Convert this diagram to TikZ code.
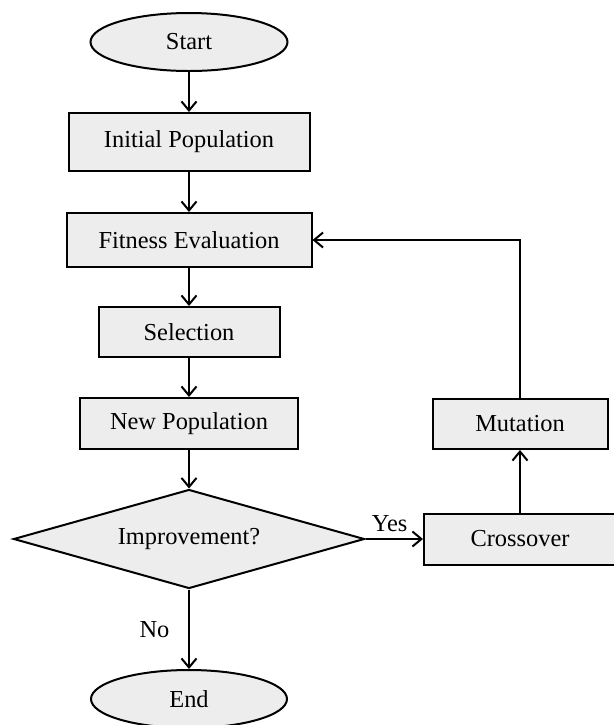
\documentclass[tikz,border=0pt]{standalone}
\usepackage{fontspec}
\setmainfont{Liberation Serif}
\usepackage{tikz}
\usetikzlibrary{shapes.geometric,arrows.meta}

\begin{document}
\begin{tikzpicture}[x=0.5pt, y=-0.5pt,
  every node/.style={font=\fontsize{12.2}{14}\selectfont},
  line/.style={line width=1pt, -{Straight Barb[length=4.5pt,width=7.5pt]}},
  terminal/.style={ellipse, draw, line width=1pt, fill=gray!14, inner sep=0pt},
  process/.style={rectangle, draw, line width=1pt, fill=gray!14, inner sep=0pt},
  decision/.style={diamond, draw, line width=1pt, fill=gray!14, inner sep=0pt, aspect=3.55}]
  \useasboundingbox (0,0) rectangle (614,725);

  % Start
  \node[terminal, minimum width=98.5pt, minimum height=29pt] (start) at (189,42) {Start};

  % Main column
  \node[process, minimum width=120.5pt, minimum height=29pt] (init) at (189,142) {Initial Population};
  \node[process, minimum width=122.5pt, minimum height=27pt] (fitness) at (189,240) {Fitness Evaluation};
  \node[process, minimum width=90.5pt, minimum height=25pt] (selection) at (189,332) {Selection};
  \node[process, minimum width=109pt, minimum height=25.5pt] (newpop) at (189,423.5) {New Population};
  \node[decision, minimum width=175.5pt, minimum height=49.5pt] (improve) at (189,539) {Improvement?};

  % End
  \node[terminal, minimum width=98pt, minimum height=29pt] (end) at (189,699) {End};

  % Right column
  \node[process, minimum width=96pt, minimum height=25.5pt] (crossover) at (520,539) {Crossover};
  \node[process, minimum width=87.5pt, minimum height=25pt] (mutation) at (520,424) {Mutation};

  % Connectors
  \draw[line] (start) -- (init);
  \draw[line] (init) -- (fitness);
  \draw[line] (fitness) -- (selection);
  \draw[line] (selection) -- (newpop);
  \draw[line] (newpop) -- (improve);
  \draw[line] (improve.east) -- node[above, pos=0.42] {Yes} (crossover.west);
  \draw[line] (improve.south) -- node[left=6pt] {No} (end);
  \draw[line] (crossover) -- (mutation);
  \draw[line] (mutation.north) |- (fitness.east);
\end{tikzpicture}
\end{document}
